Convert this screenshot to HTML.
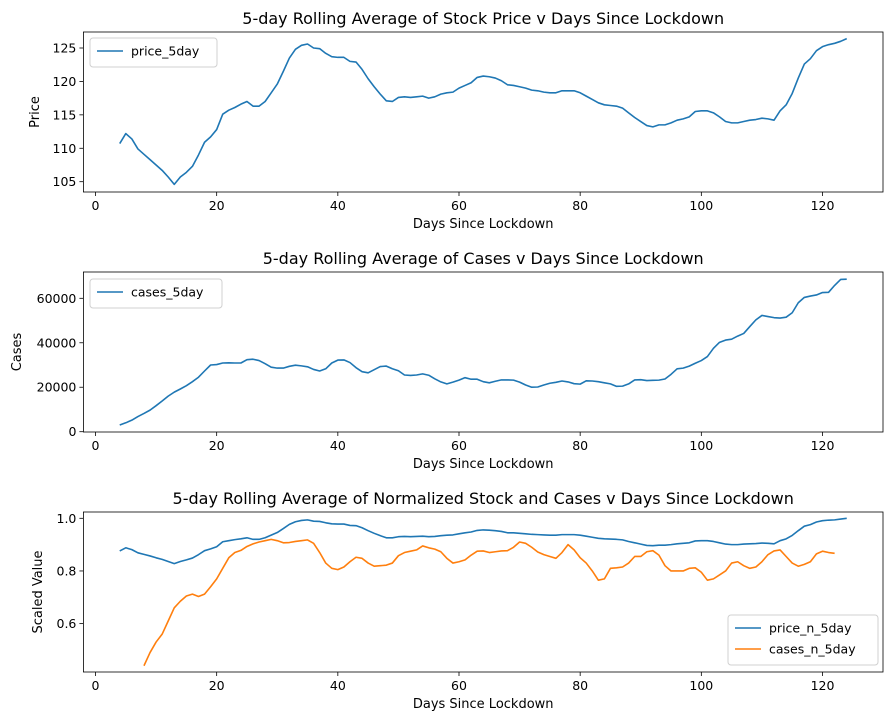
<!DOCTYPE html>
<html><head><meta charset="utf-8">
<style>
html,body{margin:0;padding:0;background:#fff;}
svg{display:block;font-family:"DejaVu Sans","Liberation Sans",sans-serif;}
</style></head>
<body>
<svg id="fig" width="893" height="725" viewBox="0 0 893 725" xmlns="http://www.w3.org/2000/svg"></svg>
<script>
const days = [];
for (let d = 4; d <= 124; d++) days.push(d);
const priceValues = [110.7,112.2,111.4,109.9,109.1,108.3,107.5,106.7,105.7,104.6,105.7,106.4,107.3,109.0,110.9,111.7,112.8,115.1,115.7,116.1,116.6,117.0,116.3,116.3,117.0,118.3,119.6,121.5,123.5,124.8,125.4,125.6,125.0,124.9,124.2,123.7,123.6,123.6,123.0,122.9,121.8,120.4,119.2,118.1,117.1,117.0,117.6,117.7,117.6,117.7,117.8,117.5,117.7,118.1,118.3,118.4,119.0,119.4,119.8,120.6,120.8,120.7,120.5,120.1,119.5,119.4,119.2,119.0,118.7,118.6,118.4,118.3,118.3,118.6,118.6,118.6,118.3,117.8,117.3,116.8,116.5,116.4,116.3,116.0,115.3,114.6,114.0,113.4,113.2,113.5,113.5,113.8,114.2,114.4,114.7,115.5,115.6,115.6,115.3,114.7,114.0,113.8,113.8,114.0,114.2,114.3,114.5,114.4,114.2,115.6,116.5,118.2,120.5,122.6,123.4,124.6,125.2,125.5,125.7,126.0,126.4];
const casesValues = [3000,4000,5200,6800,8200,9700,11700,13800,16000,17800,19200,20700,22500,24500,27300,30000,30200,30900,31000,30900,30900,32400,32600,32000,30600,29000,28600,28600,29400,29900,29600,29200,28000,27300,28300,30900,32200,32300,31100,28800,27000,26500,27900,29300,29500,28300,27400,25500,25300,25500,26000,25400,23800,22400,21500,22300,23200,24300,23600,23600,22500,22000,22700,23300,23300,23200,22300,21000,20000,20100,21000,21800,22200,22800,22400,21600,21400,22900,22800,22500,22000,21500,20400,20500,21500,23300,23400,23000,23100,23200,23700,25800,28300,28600,29500,30800,32000,33800,37500,40200,41200,41600,43000,44200,47300,50300,52300,51800,51300,51100,51500,53500,58000,60400,61000,61500,62600,62700,65800,68500,68600];
const priceNValues = [0.876,0.888,0.881,0.869,0.863,0.857,0.850,0.844,0.836,0.828,0.836,0.842,0.849,0.862,0.877,0.884,0.892,0.911,0.915,0.919,0.922,0.926,0.920,0.920,0.926,0.936,0.946,0.961,0.977,0.987,0.992,0.994,0.989,0.988,0.983,0.979,0.978,0.978,0.973,0.972,0.964,0.953,0.943,0.934,0.926,0.926,0.930,0.931,0.930,0.931,0.932,0.930,0.931,0.934,0.936,0.937,0.941,0.945,0.948,0.954,0.956,0.955,0.953,0.950,0.945,0.945,0.943,0.941,0.939,0.938,0.937,0.936,0.936,0.938,0.938,0.938,0.936,0.932,0.928,0.924,0.922,0.921,0.920,0.918,0.912,0.907,0.902,0.897,0.896,0.898,0.898,0.900,0.903,0.905,0.907,0.914,0.915,0.915,0.912,0.907,0.902,0.900,0.900,0.902,0.903,0.904,0.906,0.905,0.903,0.915,0.922,0.935,0.953,0.970,0.976,0.986,0.991,0.993,0.994,0.997,1.0];
const casesNDays = [];
for (let d = 8; d <= 122; d++) casesNDays.push(d);
const casesNValues = [0.44,0.49,0.53,0.56,0.61,0.66,0.685,0.705,0.712,0.703,0.712,0.74,0.77,0.81,0.85,0.87,0.878,0.893,0.903,0.91,0.915,0.92,0.915,0.907,0.908,0.912,0.915,0.918,0.905,0.87,0.83,0.81,0.805,0.815,0.835,0.852,0.848,0.83,0.818,0.82,0.822,0.83,0.858,0.87,0.875,0.88,0.895,0.888,0.883,0.873,0.848,0.83,0.835,0.842,0.86,0.875,0.876,0.87,0.873,0.876,0.877,0.89,0.91,0.905,0.89,0.872,0.862,0.855,0.848,0.87,0.9,0.88,0.85,0.83,0.8,0.765,0.77,0.81,0.812,0.815,0.83,0.855,0.855,0.873,0.877,0.86,0.82,0.8,0.8,0.8,0.81,0.812,0.795,0.765,0.77,0.785,0.8,0.83,0.835,0.82,0.81,0.815,0.835,0.862,0.876,0.88,0.855,0.83,0.818,0.825,0.835,0.865,0.875,0.87,0.867];
const xTicks = [0,20,40,60,80,100,120];
const priceTicks = [105,110,115,120,125];
const casesTicks = [0,20000,40000,60000];
const normTicks = [0.6,0.8,1.0];
const normTickLabels = ["0.6","0.8","1.0"];

const NS = "http://www.w3.org/2000/svg";
const svg = document.getElementById('fig');
function mk(tag, attrs, parent, text) {
  const e = document.createElementNS(NS, tag);
  for (const k in attrs) e.setAttribute(k, attrs[k]);
  if (text !== undefined) e.textContent = text;
  (parent || svg).appendChild(e);
  return e;
}
const L = 83.4, R = 883;
const xScale = d => 95.5 + d * (727 / 120);

function panel(cfg) {
  const g = mk('g', {});
  
  
  const yS = v => cfg.y0px + (cfg.y0val - v) * cfg.pxPerUnit;
  // title
  const t = mk('text', {x: (L + R) / 2, y: cfg.top - 8, 'text-anchor': 'middle', 'font-size': 16, fill: '#000'}, g, cfg.title);
  
  
  // x ticks
  const xa = mk('g', {}, g);
  
  
  xTicks.forEach(d => {
    const x = xScale(d);
    mk('line', {x1: x, x2: x, y1: cfg.bottom, y2: cfg.bottom + 4, stroke: '#000', 'stroke-width': 0.8}, xa);
    const tl = mk('text', {x: x, y: cfg.bottom + 18, 'text-anchor': 'middle', 'font-size': 12.5, fill: '#000'}, xa, String(d));
    
    
  });
  const xl = mk('text', {x: (L + R) / 2, y: cfg.bottom + 36, 'text-anchor': 'middle', 'font-size': 13, fill: '#000'}, g, 'Days Since Lockdown');
  
  
  // y ticks
  const ya = mk('g', {}, g);
  
  
  cfg.yTicks.forEach((v, i) => {
    const y = yS(v);
    mk('line', {x1: L - 4, x2: L, y1: y, y2: y, stroke: '#000', 'stroke-width': 0.8}, ya);
    const tl = mk('text', {x: L - 7, y: y + 4.5, 'text-anchor': 'end', 'font-size': 12.5, fill: '#000'}, ya, cfg.yTickLabels ? cfg.yTickLabels[i] : String(v));
    
    
  });
  const yl = mk('text', {x: 0, y: 0, 'text-anchor': 'middle', 'font-size': 13, fill: '#000',
    transform: `translate(${cfg.ylabelX},${(cfg.top + cfg.bottom) / 2}) rotate(-90)`}, g, cfg.ylabel);
  
  
  // series
  cfg.series.forEach(s => {
    const pts = s.xs.map((d, i) => xScale(d).toFixed(2) + ',' + yS(s.vals[i]).toFixed(2)).join(' ');
    const p = mk('polyline', {points: pts, fill: 'none', stroke: s.color, 'stroke-width': 1.6, 'stroke-linejoin': 'round'}, g);
    
    
  });
  // frame
  mk('rect', {x: L, y: cfg.top, width: R - L, height: cfg.bottom - cfg.top, fill: 'none', stroke: '#000', 'stroke-width': 0.8}, g);
  // legend
  const lg = mk('g', {}, g);
  
  
  const lh = 8 + cfg.series.length * 21;
  mk('rect', {x: cfg.legX, y: cfg.legY, width: cfg.legW, height: lh, rx: 3, fill: '#fff', 'fill-opacity': 0.8, stroke: '#d0d0d0', 'stroke-width': 1}, lg);
  cfg.series.forEach((s, i) => {
    const yy = cfg.legY + 13 + i * 21;
    const e = mk('g', {}, lg);
    
    
    mk('line', {x1: cfg.legX + 7, x2: cfg.legX + 33, y1: yy, y2: yy, stroke: s.color, 'stroke-width': 1.6}, e);
    mk('text', {x: cfg.legX + 41, y: yy + 4.5, 'font-size': 12.5, fill: '#000'}, e, s.name);
  });
}

panel({name: 'price-chart', title: '5-day Rolling Average of Stock Price v Days Since Lockdown',
  top: 32, bottom: 192, y0val: 125, y0px: 48, pxPerUnit: 6.685, yTicks: priceTicks,
  ylabel: 'Price', ylabelX: 39, legX: 90, legY: 38, legW: 127,
  series: [{name: 'price_5day', xs: days, vals: priceValues, color: '#1f77b4'}]});

panel({name: 'cases-chart', title: '5-day Rolling Average of Cases v Days Since Lockdown',
  top: 272, bottom: 432, y0val: 0, y0px: 431.7, pxPerUnit: 133.4 / 60000, yTicks: casesTicks,
  ylabel: 'Cases', ylabelX: 21, legX: 90, legY: 279, legW: 132,
  series: [{name: 'cases_5day', xs: days, vals: casesValues, color: '#1f77b4'}]});

panel({name: 'normalized-chart', title: '5-day Rolling Average of Normalized Stock and Cases v Days Since Lockdown',
  top: 512, bottom: 672, y0val: 1.0, y0px: 518.3, pxPerUnit: 263.3, yTicks: normTicks, yTickLabels: normTickLabels,
  ylabel: 'Scaled Value', ylabelX: 42, legX: 728, legY: 615, legW: 150,
  series: [{name: 'price_n_5day', xs: days, vals: priceNValues, color: '#1f77b4'},
           {name: 'cases_n_5day', xs: casesNDays, vals: casesNValues, color: '#ff7f0e'}]});
</script>
</body></html>
